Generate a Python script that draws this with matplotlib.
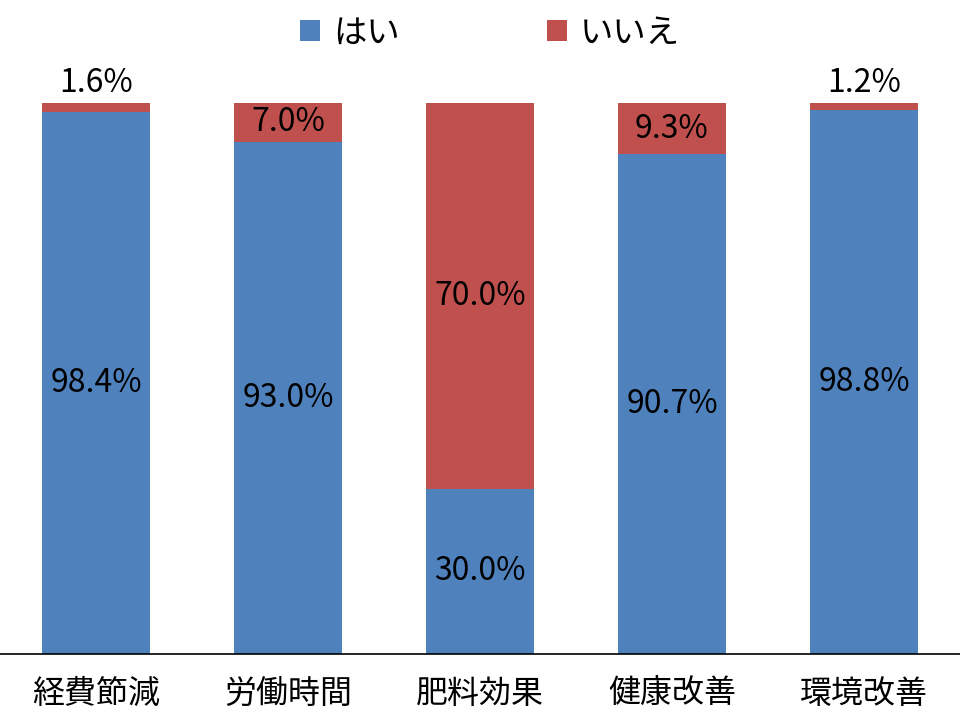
import numpy as np
import matplotlib
matplotlib.use("Agg")
import matplotlib.pyplot as plt

plt.rcParams['font.family'] = ['Noto Sans CJK JP', 'DejaVu Sans']

categories = ["経費節減", "労働時間", "肥料効果", "健康改善", "環境改善"]
yes_vals = [98.4, 93.0, 30.0, 90.7, 98.8]
no_vals = [1.6, 7.0, 70.0, 9.3, 1.2]

blue = "#4F81BD"
red = "#C0504D"

fig = plt.figure(figsize=(9.6, 7.2), dpi=100)
ax = fig.add_axes([0, 1 - 654 / 720, 1, (654 - 103) / 720])

x = np.arange(len(categories))
yes = np.array(yes_vals)
no = np.array(no_vals)
ax.bar(x, yes, width=0.5625, color=blue, label="はい")
ax.bar(x, no, width=0.5625, bottom=yes, color=red, label="いいえ")

fs = 23
for i in range(len(categories)):
    ax.text(x[i], yes[i] / 2, f"{yes[i]:.1f}%", ha="center", va="center", fontsize=fs)
    if no[i] < 5:
        ax.annotate(f"{no[i]:.1f}%", (x[i], 100), xytext=(0, 3), textcoords="offset points",
                    ha="center", va="bottom", fontsize=fs)
    else:
        ax.text(x[i], yes[i] + no[i] / 2, f"{no[i]:.1f}%", ha="center", va="center", fontsize=fs)

ax.set_xlim(-0.5, len(categories) - 0.5)
ax.set_ylim(0, 100)
ax.set_xticks(x)
ax.set_xticklabels(categories, fontsize=fs)
ax.tick_params(axis="x", length=0, pad=17)
ax.set_yticks([])
for s in ["top", "left", "right"]:
    ax.spines[s].set_visible(False)
ax.spines["bottom"].set_color("black")
ax.spines["bottom"].set_linewidth(1.2)

fig.legend(loc="center", bbox_to_anchor=(0.5 + 10 / 960, 1 - 33 / 720), ncol=2, frameon=False,
           fontsize=24, handlelength=0.6, handleheight=0.6, columnspacing=4.4, handletextpad=0.4)

fig.savefig("out.png", dpi=100)
